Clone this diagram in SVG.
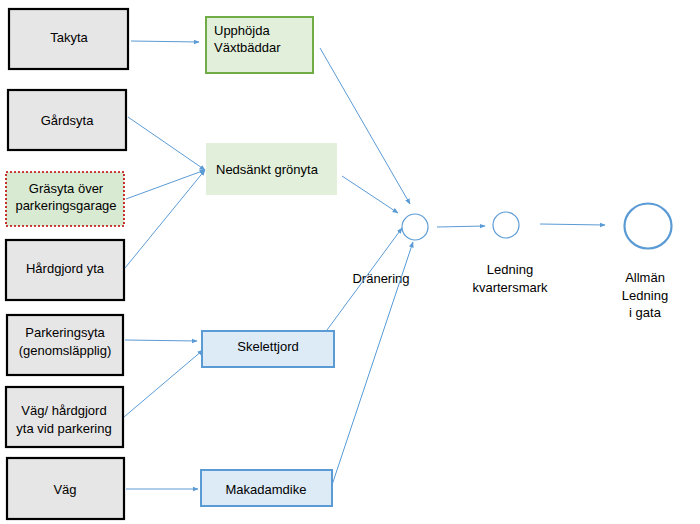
<svg xmlns="http://www.w3.org/2000/svg" width="700" height="524" viewBox="0 0 700 524">
<defs>
<marker id="ah" viewBox="0 0 10 10" refX="9" refY="5" markerWidth="6" markerHeight="6" orient="auto" markerUnits="userSpaceOnUse">
<path d="M0,1 L10,5 L0,9 z" fill="#5b9bd5"/>
</marker>
<style>
.src{fill:#e7e6e6;stroke:#000;stroke-width:2.2}
.grass{fill:#d9ead3;stroke:#c00000;stroke-width:1.6;stroke-dasharray:2 2}
.up{fill:#e2efda;stroke:#70ad47;stroke-width:2}
.ned{fill:#e2efda;stroke:none}
.blue{fill:#ddebf7;stroke:#5b9bd5;stroke-width:2}
.c{fill:#fff;stroke:#5b9bd5;stroke-width:1.2}
.cb{fill:#fff;stroke:#5b9bd5;stroke-width:2.2}
text{font-family:"Liberation Sans","Open Sans",sans-serif;font-size:13px;fill:#000}
.m{text-anchor:middle}
.conn line{stroke:#5b9bd5;stroke-width:1;marker-end:url(#ah)}
</style>
</defs>
<rect width="700" height="524" fill="#fff"/>
<g id="takyta"><rect class="src" x="9" y="9" width="119" height="60"/><text class="m" x="69" y="42">Takyta</text></g>
<g id="gardsyta"><rect class="src" x="8" y="90" width="118" height="60"/><text class="m" x="67" y="125">Gårdsyta</text></g>
<g id="grasyta"><rect class="grass" x="6" y="172" width="118" height="54"/><text class="m" x="66" y="193">Gräsyta över</text><text class="m" x="66" y="210">parkeringsgarage</text></g>
<g id="hardgjord"><rect class="src" x="6" y="240" width="118" height="60"/><text class="m" x="65" y="273">Hårdgjord yta</text></g>
<g id="parkeringsyta"><rect class="src" x="7" y="315" width="116" height="60"/><text class="m" x="65" y="337">Parkeringsyta</text><text class="m" x="65" y="355">(genomsläpplig)</text></g>
<g id="vaghardgjord"><rect class="src" x="6" y="387" width="117" height="60"/><text class="m" x="64" y="415">Väg/ hårdgjord</text><text class="m" x="64" y="433">yta vid parkering</text></g>
<g id="vag"><rect class="src" x="7" y="458" width="117" height="61"/><text class="m" x="65" y="494">Väg</text></g>
<g id="upphojda"><rect class="up" x="206" y="17" width="107" height="56"/><text x="214" y="35">Upphöjda</text><text x="214" y="52">Växtbäddar</text></g>
<g id="nedsankt"><rect class="ned" x="206" y="143" width="131" height="52"/><text x="216" y="174">Nedsänkt grönyta</text></g>
<g id="skelettjord"><rect class="blue" x="202" y="331" width="132" height="36"/><text class="m" x="268" y="351">Skelettjord</text></g>
<g id="makadamdike"><rect class="blue" x="201" y="470" width="131" height="36"/><text class="m" x="266" y="494">Makadamdike</text></g>
<g id="dranering"><circle class="c" cx="415" cy="227" r="13"/><text class="m" x="381" y="283">Dränering</text></g>
<g id="ledning"><circle class="c" cx="506" cy="225" r="13"/><text class="m" x="510" y="274">Ledning</text><text class="m" x="510" y="292">kvartersmark</text></g>
<g id="allman"><ellipse class="cb" cx="648" cy="226" rx="23.5" ry="22.5"/><text class="m" x="645" y="282">Allmän</text><text class="m" x="645" y="300">Ledning</text><text class="m" x="645" y="317">i gata</text></g>
<g class="conn" id="connectors">
<line x1="131" y1="41" x2="199" y2="42"/>
<line x1="128" y1="117" x2="205" y2="170"/>
<line x1="126" y1="199" x2="205" y2="170"/>
<line x1="125" y1="268" x2="205" y2="170"/>
<line x1="320" y1="48" x2="410" y2="204"/>
<line x1="342" y1="176" x2="398" y2="213"/>
<line x1="327" y1="330" x2="402" y2="228"/>
<line x1="332" y1="485" x2="413" y2="242"/>
<line x1="437" y1="227" x2="485" y2="226"/>
<line x1="540" y1="224" x2="605" y2="225"/>
<line x1="125" y1="340" x2="197" y2="341"/>
<line x1="124" y1="417" x2="203" y2="350"/>
<line x1="126" y1="489" x2="198" y2="489"/>
</g>
</svg>
